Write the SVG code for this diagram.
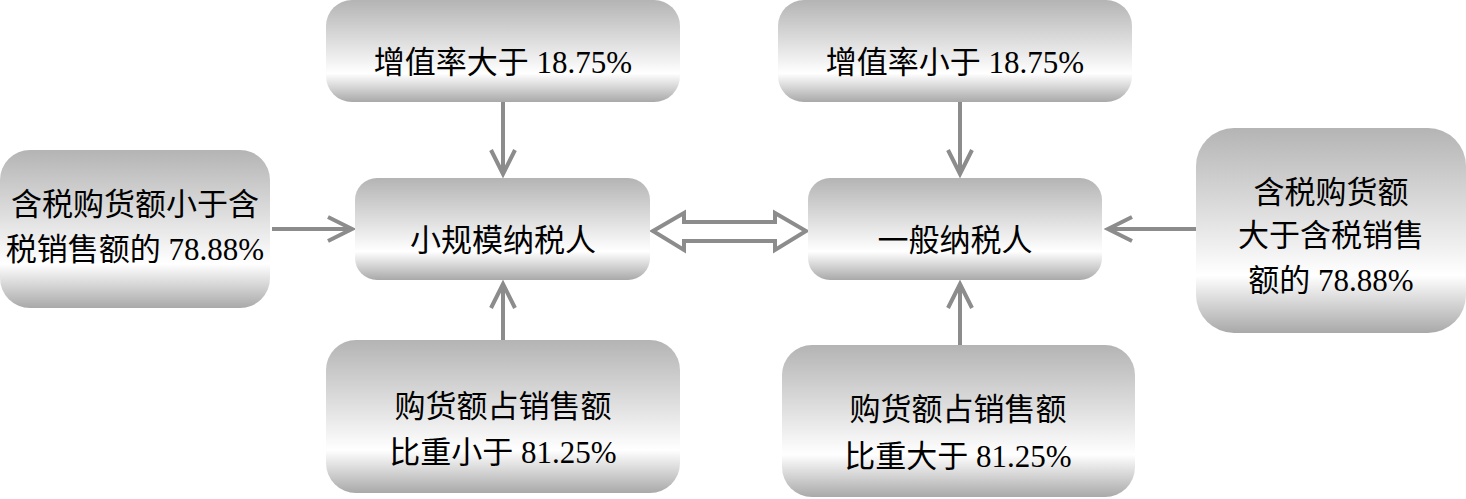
<svg xmlns="http://www.w3.org/2000/svg" width="1466" height="499" viewBox="0 0 1466 499">
<defs>
<linearGradient id="g" x1="0" y1="0" x2="0" y2="1">
<stop offset="0" stop-color="#b4b4b4"/>
<stop offset="0.45" stop-color="#e2e2e2"/>
<stop offset="0.72" stop-color="#ffffff"/>
<stop offset="1" stop-color="#a9a9a9"/>
</linearGradient>
<marker id="v" markerWidth="30" markerHeight="30" viewBox="-26 -14 30 28" refX="0" refY="0" orient="auto" markerUnits="userSpaceOnUse">
<polyline points="-24,-12 0,0 -24,12" fill="none" stroke="#8c8c8c" stroke-width="4"/>
</marker>
<style>
.n{fill:url(#g);stroke:none}
.t{font-family:"Liberation Serif","Noto Sans CJK SC",serif;font-size:31px;fill:#000;text-anchor:middle}
.c{stroke:#8c8c8c;stroke-width:4;fill:none}
</style>
</defs>
<rect width="1466" height="499" fill="#fff"/>
<g id="connectors">
<line class="c" x1="503" y1="102" x2="503" y2="174" marker-end="url(#v)"/>
<line class="c" x1="960" y1="102" x2="960" y2="174" marker-end="url(#v)"/>
<line class="c" x1="503" y1="340" x2="503" y2="284" marker-end="url(#v)"/>
<line class="c" x1="960" y1="345" x2="960" y2="284" marker-end="url(#v)"/>
<line class="c" x1="272" y1="229" x2="352" y2="229" marker-end="url(#v)"/>
<line class="c" x1="1196" y1="229" x2="1108" y2="229" marker-end="url(#v)"/>
<polygon points="653,231 684,213 684,222 775,222 775,213 806,231 775,250 775,241 684,241 684,250" fill="#fff" stroke="#8c8c8c" stroke-width="4" stroke-linejoin="miter"/>
</g>
<g id="n1"><rect class="n" x="326" y="0" width="354" height="102" rx="26"/><text class="t" x="503" y="73">增值率大于 18.75%</text></g>
<g id="n2"><rect class="n" x="778" y="0" width="354" height="102" rx="26"/><text class="t" x="955" y="73">增值率小于 18.75%</text></g>
<g id="n3"><rect class="n" x="0" y="150" width="270" height="158" rx="30"/><text class="t" x="135" y="215">含税购货额小于含</text><text class="t" x="135" y="260">税销售额的 78.88%</text></g>
<g id="n4"><rect class="n" x="355" y="178" width="295" height="102" rx="22"/><text class="t" x="503" y="251">小规模纳税人</text></g>
<g id="n5"><rect class="n" x="808" y="178" width="294" height="102" rx="22"/><text class="t" x="955" y="251">一般纳税人</text></g>
<g id="n6"><rect class="n" x="1196" y="128" width="270" height="205" rx="38"/><text class="t" x="1331" y="203">含税购货额</text><text class="t" x="1331" y="246">大于含税销售</text><text class="t" x="1331" y="291">额的 78.88%</text></g>
<g id="n7"><rect class="n" x="326" y="340" width="354" height="153" rx="30"/><text class="t" x="503" y="417">购货额占销售额</text><text class="t" x="503" y="463">比重小于 81.25%</text></g>
<g id="n8"><rect class="n" x="782" y="345" width="353" height="152" rx="30"/><text class="t" x="958" y="420">购货额占销售额</text><text class="t" x="958" y="467">比重大于 81.25%</text></g>
</svg>
